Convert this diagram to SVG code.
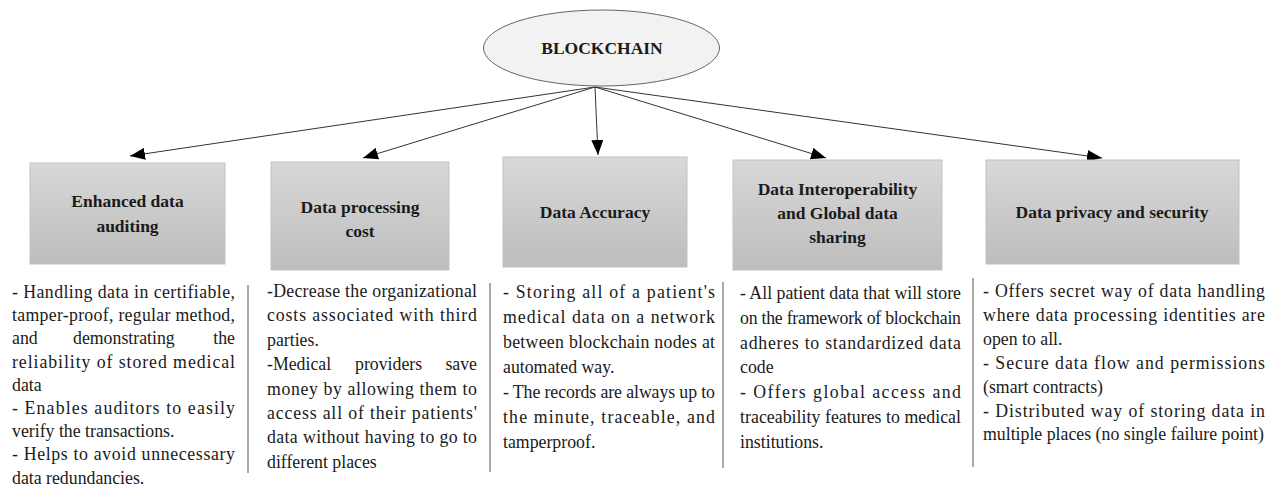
<svg xmlns="http://www.w3.org/2000/svg" width="1279" height="496" viewBox="0 0 1279 496">
<style>
.t{font-family:"Liberation Serif","Times New Roman",serif;font-weight:bold;font-size:17.5px;fill:#1a1a1a;text-anchor:middle}
.b{font-family:"Liberation Serif","Times New Roman",serif;font-size:17.8px;fill:#1a1a1a}
.box{fill:url(#g);stroke:#c2c2c2;stroke-width:1}
.sep{stroke:#555;stroke-width:1}
.c{stroke:#333;stroke-width:1;fill:none;marker-end:url(#ah)}
</style>
<defs>
<linearGradient id="g" x1="0" y1="0" x2="0" y2="1">
<stop offset="0" stop-color="#d8d8d8"/>
<stop offset="1" stop-color="#bdbdbd"/>
</linearGradient>
<marker id="ah" viewBox="0 0 15 12" refX="15" refY="6" markerWidth="15" markerHeight="12" markerUnits="userSpaceOnUse" orient="auto">
<path d="M0,0 L15,6 L0,12 z" fill="#000"/>
</marker>
</defs>
<rect width="1279" height="496" fill="#fff"/>
<g id="connectors">
<line class="c" x1="595" y1="87" x2="130" y2="156"/>
<line class="c" x1="595" y1="87" x2="363" y2="158"/>
<line class="c" x1="595" y1="87" x2="598" y2="155"/>
<line class="c" x1="595" y1="87" x2="826" y2="158"/>
<line class="c" x1="595" y1="87" x2="1102" y2="158"/>
</g>
<g id="blockchain">
<ellipse cx="601.5" cy="48" rx="118" ry="38" fill="#f2f2f2" stroke="#666" stroke-width="1"/>
<text class="t" x="602" y="54" font-size="16">BLOCKCHAIN</text>
</g>
<g id="n1">
<rect class="box" x="30" y="163" width="195" height="101"/>
<text class="t" x="127.5" y="207">Enhanced data</text>
<text class="t" x="127.5" y="232">auditing</text>
</g>
<g id="n2">
<rect class="box" x="271" y="162" width="178" height="108"/>
<text class="t" x="360" y="213">Data processing</text>
<text class="t" x="360" y="237">cost</text>
</g>
<g id="n3">
<rect class="box" x="503" y="157" width="184" height="110"/>
<text class="t" x="595" y="218">Data Accuracy</text>
</g>
<g id="n4">
<rect class="box" x="733" y="160" width="209" height="110"/>
<text class="t" x="837.5" y="195">Data Interoperability</text>
<text class="t" x="837.5" y="219">and Global data</text>
<text class="t" x="837.5" y="243">sharing</text>
</g>
<g id="n5">
<rect class="box" x="986" y="160" width="253" height="104"/>
<text class="t" x="1112" y="218">Data privacy and security</text>
</g>
<g id="desc1">
<text class="b" x="12" y="298" textLength="223" lengthAdjust="spacing">- Handling data in certifiable,</text>
<text class="b" x="12" y="321.2" textLength="223" lengthAdjust="spacing">tamper-proof, regular method,</text>
<text class="b" x="12" y="344.4">and</text>
<text class="b" x="73" y="344.4">demonstrating</text>
<text class="b" x="235" y="344.4" text-anchor="end">the</text>
<text class="b" x="12" y="367.6" textLength="223" lengthAdjust="spacing">reliability of stored medical</text>
<text class="b" x="12" y="390.8">data</text>
<text class="b" x="12" y="414" textLength="223" lengthAdjust="spacing">- Enables auditors to easily</text>
<text class="b" x="12" y="437.2">verify the transactions.</text>
<text class="b" x="12" y="460.4" textLength="223" lengthAdjust="spacing">- Helps to avoid unnecessary</text>
<text class="b" x="12" y="483.6">data redundancies.</text>
</g>
<g id="desc2">
<text class="b" x="267" y="297" textLength="210" lengthAdjust="spacing">-Decrease the organizational</text>
<text class="b" x="267" y="321.4" textLength="210" lengthAdjust="spacing">costs associated with third</text>
<text class="b" x="267" y="345.8">parties.</text>
<text class="b" x="267" y="370.2">-Medical</text>
<text class="b" x="355" y="370.2">providers</text>
<text class="b" x="477" y="370.2" text-anchor="end">save</text>
<text class="b" x="267" y="394.6" textLength="210" lengthAdjust="spacing">money by allowing them to</text>
<text class="b" x="267" y="419" textLength="210" lengthAdjust="spacing">access all of their patients'</text>
<text class="b" x="267" y="443.4" textLength="210" lengthAdjust="spacing">data without having to go to</text>
<text class="b" x="267" y="467.8">different places</text>
</g>
<g id="desc3">
<text class="b" x="503" y="298" textLength="212" lengthAdjust="spacing">- Storing all of a patient's</text>
<text class="b" x="503" y="323" textLength="212" lengthAdjust="spacing">medical data on a network</text>
<text class="b" x="503" y="348" textLength="212" lengthAdjust="spacing">between blockchain nodes at</text>
<text class="b" x="503" y="373">automated way.</text>
<text class="b" x="503" y="398" textLength="212" lengthAdjust="spacing">- The records are always up to</text>
<text class="b" x="503" y="423" textLength="212" lengthAdjust="spacing">the minute, traceable, and</text>
<text class="b" x="503" y="448">tamperproof.</text>
</g>
<g id="desc4">
<text class="b" x="740" y="299" textLength="221" lengthAdjust="spacing">- All patient data that will store</text>
<text class="b" x="740" y="323.8" textLength="221" lengthAdjust="spacing">on the framework of blockchain</text>
<text class="b" x="740" y="348.6" textLength="221" lengthAdjust="spacing">adheres to standardized data</text>
<text class="b" x="740" y="373.4">code</text>
<text class="b" x="740" y="398.2" textLength="221" lengthAdjust="spacing">- Offers global access and</text>
<text class="b" x="740" y="423" textLength="221" lengthAdjust="spacing">traceability features to medical</text>
<text class="b" x="740" y="447.8">institutions.</text>
</g>
<g id="desc5">
<text class="b" x="983" y="297" textLength="282" lengthAdjust="spacing">- Offers secret way of data handling</text>
<text class="b" x="983" y="320.9" textLength="282" lengthAdjust="spacing">where data processing identities are</text>
<text class="b" x="983" y="344.8">open to all.</text>
<text class="b" x="983" y="368.7" textLength="282" lengthAdjust="spacing">- Secure data flow and permissions</text>
<text class="b" x="983" y="392.6">(smart contracts)</text>
<text class="b" x="983" y="416.5" textLength="282" lengthAdjust="spacing">- Distributed way of storing data in</text>
<text class="b" x="983" y="440.4">multiple places (no single failure point)</text>
</g>
<g id="separators">
<line class="sep" x1="248" y1="285" x2="248" y2="473"/>
<line class="sep" x1="490" y1="283" x2="490" y2="472"/>
<line class="sep" x1="723" y1="282" x2="723" y2="468"/>
<line class="sep" x1="973" y1="278" x2="973" y2="467"/>
</g>
</svg>
